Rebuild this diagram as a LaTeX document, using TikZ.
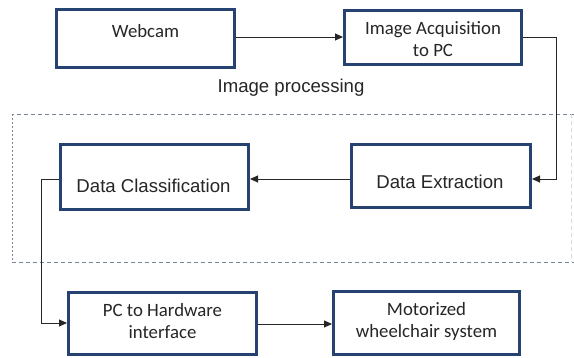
\documentclass[tikz,border=0pt]{standalone}
\usepackage{fontspec}
\setmainfont{Carlito}
\newfontfamily\arialfont{Liberation Sans}
\usetikzlibrary{arrows.meta,calc}
\definecolor{boxblue}{RGB}{38,66,112}
\definecolor{txtgray}{RGB}{38,38,38}
\definecolor{dashgray}{RGB}{120,134,152}
\begin{document}
\begin{tikzpicture}[x=1pt,y=-1pt,
  box/.style={draw=boxblue,line width=2.6pt,fill=white,inner sep=0pt},
  calib/.style={font=\fontsize{18.8}{22}\selectfont,text=txtgray,align=center,inner sep=0pt},
  arial/.style={font=\arialfont\fontsize{18.6}{21}\selectfont,text=txtgray,inner sep=0pt},
  conn/.style={draw=black!85,line width=0.9pt},
  arr/.style={conn,-{Triangle[length=8pt,width=7pt]}},
  group/.style={draw=dashgray,line width=0.9pt,dash pattern=on 4pt off 3pt}]
\useasboundingbox (0,0) rectangle (574,358);

% dashed image-processing region (open to the right edge)
\draw[group] (574,114) -- (12,114);
\draw[group,dash pattern=on 2pt off 2pt] (12,114) -- (12,262);
\draw[group] (12,262) -- (574,262);
\draw[draw=dashgray!30,line width=0.7pt,dash pattern=on 4pt off 3pt] (571,114) -- (571,262);

\node[arial] (proc) at (291,88) {Image processing};

% boxes
\node[box,minimum width=178.4pt,minimum height=58.4pt] (webcam) at (145.5,38.5) {};
\node[calib] (webcamT) at ($(webcam)+(0,-7)$) {Webcam};

\node[box,minimum width=177.4pt,minimum height=54.4pt] (acq) at (433,37.5) {};
\node[calib] (acqT) at ($(acq)+(0,1.5)$) {Image Acquisition\\to PC};

\node[box,minimum width=188.4pt,minimum height=65.4pt] (class) at (154.5,177) {};
\node[arial] (classT) at ($(class)+(-1,9)$) {Data Classification};

\node[box,minimum width=179.4pt,minimum height=63.4pt] (extr) at (441,176) {};
\node[arial] (extrT) at ($(extr)+(-1,6)$) {Data Extraction};

\node[box,minimum width=188.4pt,minimum height=62.4pt] (pc) at (162.5,323.5) {};
\node[calib] (pcT) at ($(pc)+(0,-2.5)$) {PC to Hardware\\interface};

\node[box,minimum width=186.4pt,minimum height=63.4pt] (motor) at (426.5,323) {};
\node[calib] (motorT) at ($(motor)+(0,-2)$) {Motorized\\wheelchair system};

% connectors
\coordinate (r1) at (556,179);
\coordinate (l1) at (41,179);
\coordinate (l2) at (41,323);

\draw[arr] (webcam.east |- 0,37) -- (acq.west |- 0,37);
\draw[arr] (acq.east |- 0,37) -| (r1) -- (extr.east |- r1);
\draw[arr] (extr.west |- r1) -- (class.east |- r1);
\draw[arr] (class.west |- l1) -- (l1) -- (l2) -- (pc.west |- l2);
\draw[arr] (pc.east |- 0,324) -- (motor.west |- 0,324);
\end{tikzpicture}
\end{document}
